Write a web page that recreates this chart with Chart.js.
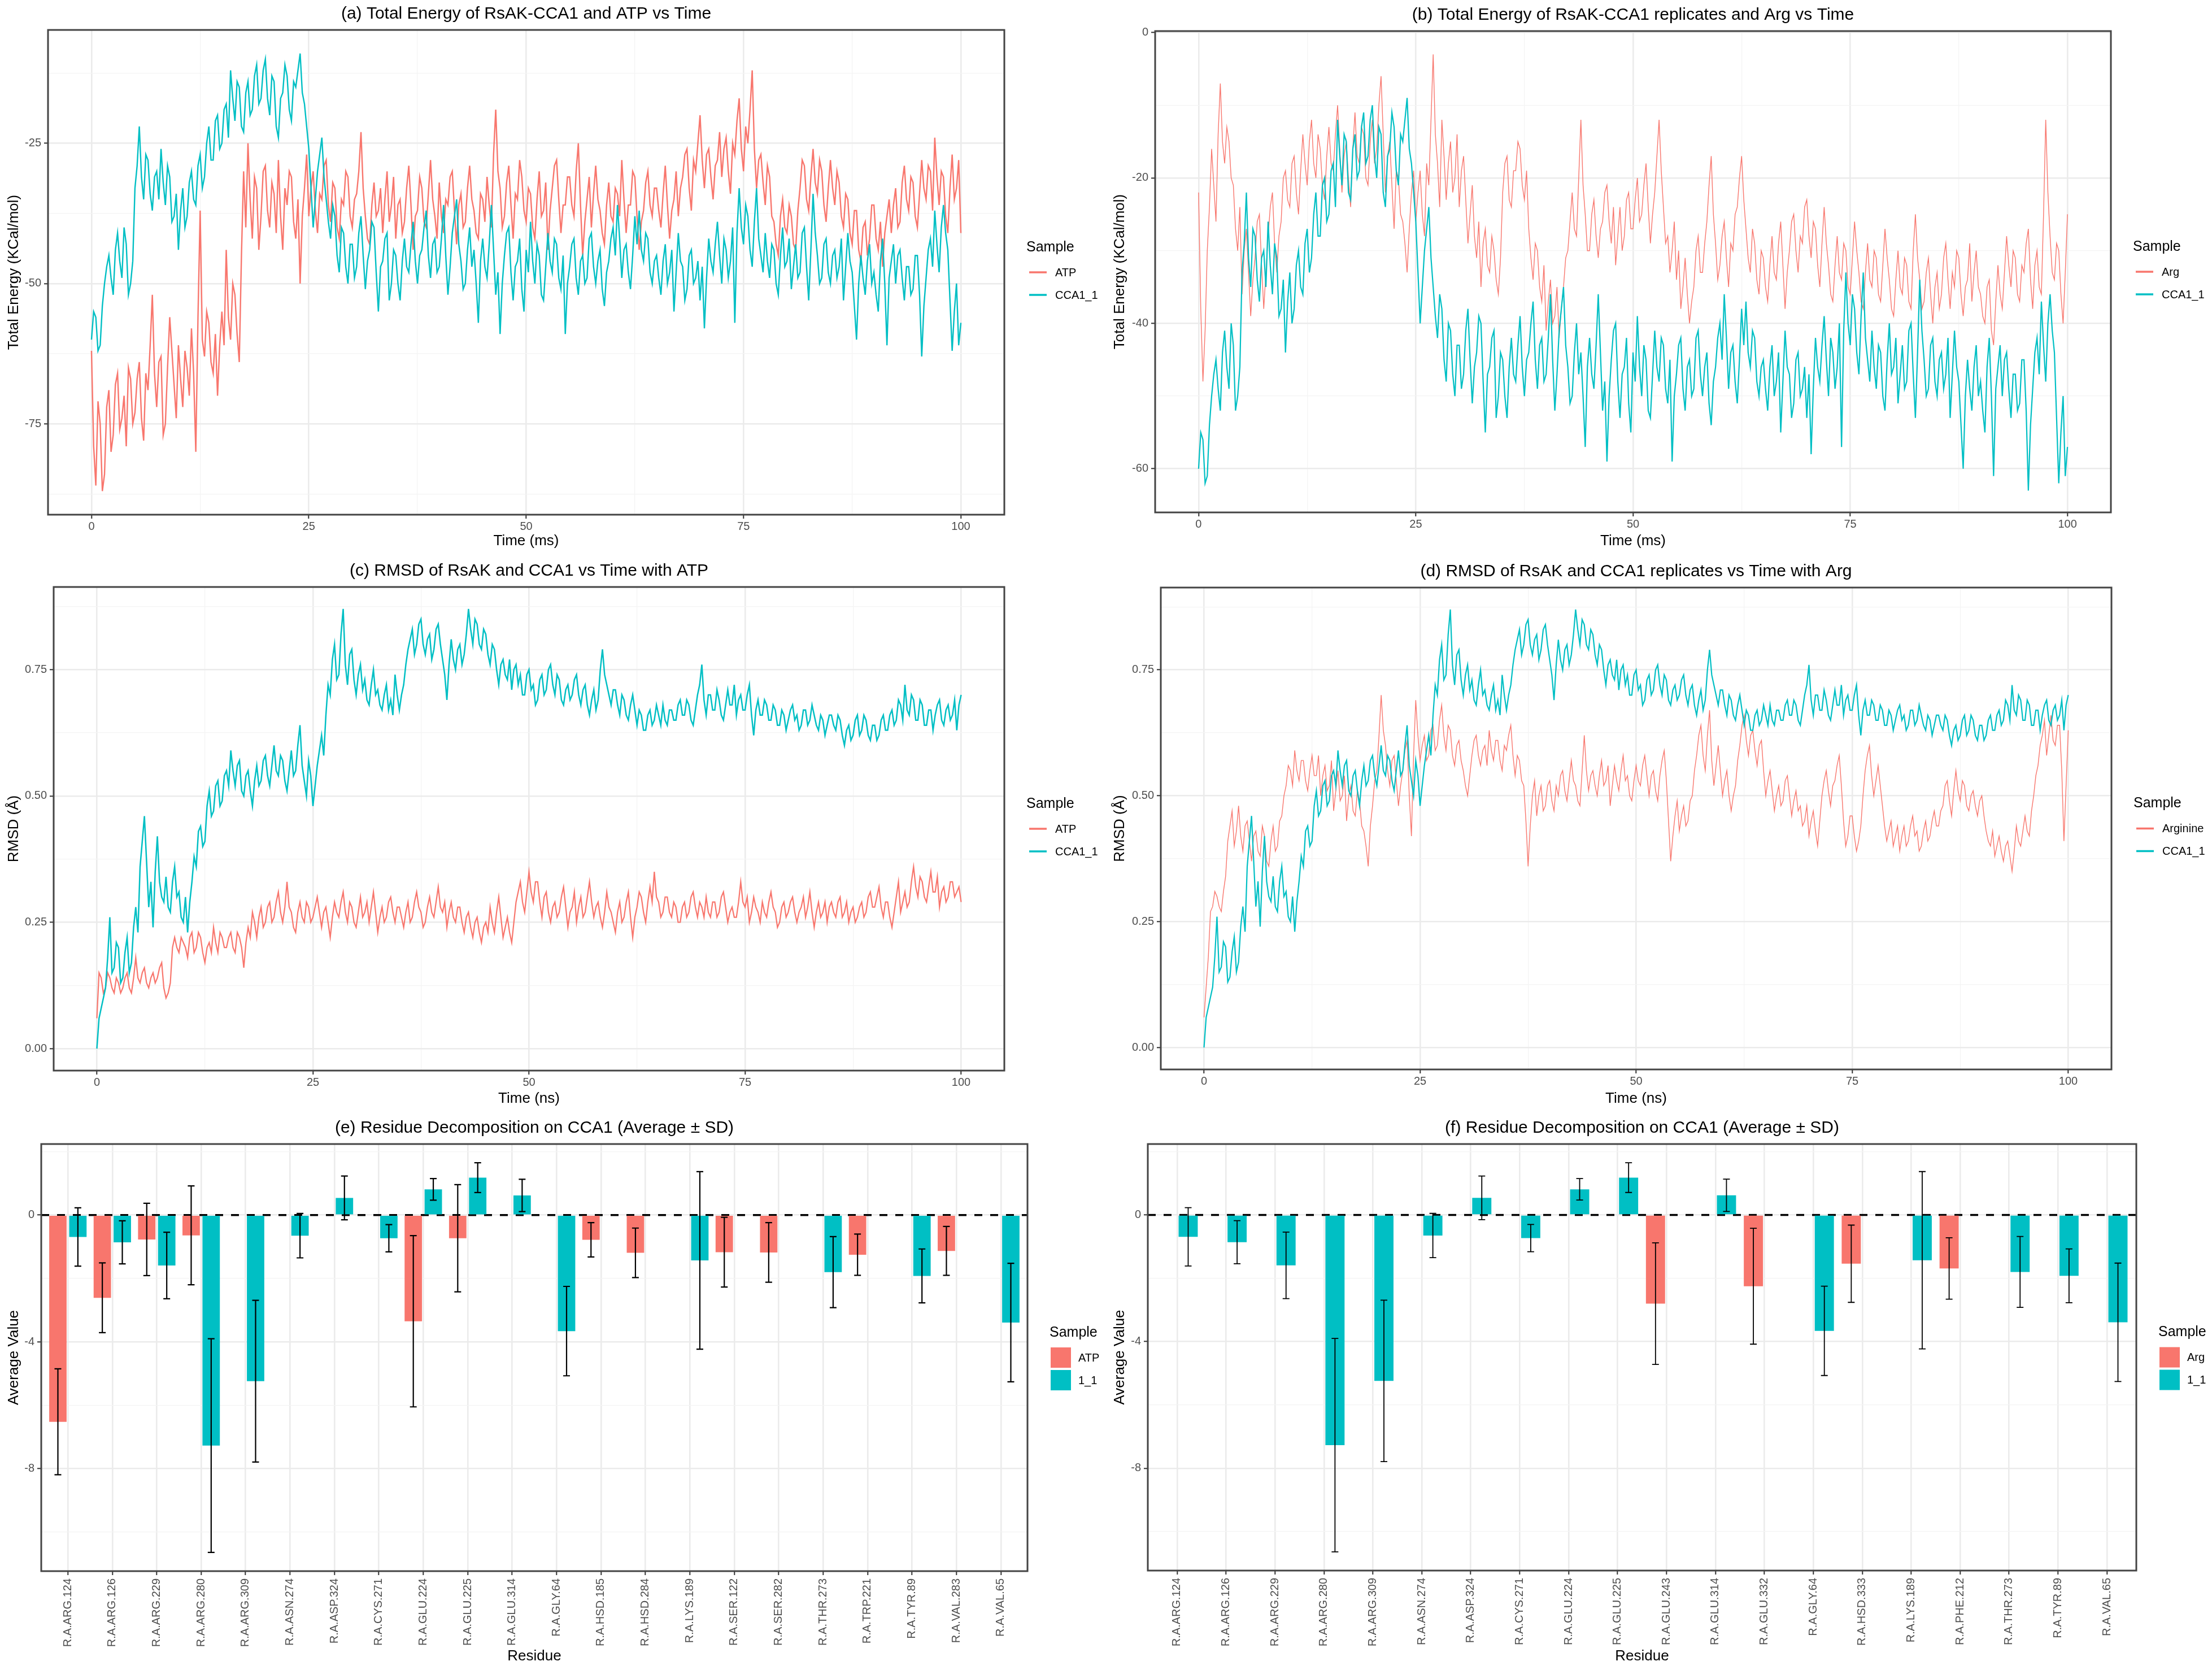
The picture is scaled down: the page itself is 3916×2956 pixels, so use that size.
<!DOCTYPE html>
<html>
<head>
<meta charset="utf-8">
<script src="https://cdn.jsdelivr.net/npm/chart.js@4.4.1/dist/chart.umd.min.js"></script>
<style>
  html, body { margin: 0; padding: 0; background: #fff; }
  body { width: 3916px; height: 2956px; position: relative; overflow: hidden; }
  canvas { position: absolute; }
</style>
</head>
<body>
<canvas id="panelA" width="1958" height="980" style="left:0px;top:0px"></canvas>
<canvas id="panelB" width="1958" height="980" style="left:1958px;top:0px"></canvas>
<canvas id="panelC" width="1958" height="990" style="left:0px;top:980px"></canvas>
<canvas id="panelD" width="1958" height="990" style="left:1958px;top:980px"></canvas>
<canvas id="panelE" width="1958" height="986" style="left:0px;top:1970px"></canvas>
<canvas id="panelF" width="1958" height="986" style="left:1958px;top:1970px"></canvas>
<script>
// Time series, every 0.25 ms / ns (0 .. 100), one row = 5 ms
const energyCCA1 = [
  -60, -55, -56, -62, -61, -54, -50, -47, -45, -49, -52, -44, -41, -46, -49, -40, -43, -52, -50, -46,
  -33, -29, -22, -31, -35, -27, -28, -34, -37, -31, -30, -35, -26, -32, -36, -29, -31, -39, -38, -34,
  -44, -37, -33, -40, -38, -32, -30, -35, -36, -29, -27, -33, -31, -25, -22, -28, -28, -21, -20, -26,
  -25, -19, -18, -24, -12, -17, -21, -14, -15, -22, -23, -16, -14, -20, -19, -13, -11, -18, -17, -12,
  -10, -17, -20, -13, -14, -22, -24, -17, -16, -11, -13, -19, -21, -14, -15, -12, -9, -16, -18, -22,
  -26, -33, -40, -35, -30, -27, -24, -31, -35, -39, -42, -36, -38, -45, -48, -40, -41, -47, -50, -43,
  -43, -49, -47, -41, -38, -45, -51, -46, -44, -39, -40, -48, -55, -47, -46, -42, -41, -53, -50, -44,
  -45, -50, -53, -46, -42, -47, -48, -43, -39, -46, -50, -45, -44, -40, -37, -45, -49, -43, -42, -48,
  -47, -42, -36, -45, -52, -47, -41, -38, -35, -43, -46, -51, -50, -44, -40, -47, -44, -50, -57, -46,
  -42, -47, -49, -43, -36, -44, -52, -48, -59, -50, -45, -41, -40, -48, -53, -47, -46, -42, -51, -55,
  -44, -48, -39, -46, -50, -43, -45, -52, -53, -47, -41, -46, -48, -42, -43, -49, -51, -45, -59, -50,
  -47, -43, -42, -49, -52, -46, -45, -50, -49, -42, -41, -47, -50, -46, -44, -51, -54, -48, -46, -42,
  -40, -45, -36, -42, -49, -44, -43, -48, -51, -45, -38, -43, -37, -44, -46, -41, -42, -48, -50, -46,
  -45, -49, -52, -46, -43, -50, -48, -44, -55, -48, -41, -46, -47, -53, -51, -45, -44, -50, -49, -46,
  -53, -47, -58, -49, -42, -46, -48, -43, -39, -45, -50, -42, -44, -49, -46, -40, -57, -41, -33, -40,
  -43, -36, -38, -44, -47, -39, -33, -42, -45, -48, -41, -46, -49, -43, -44, -50, -52, -45, -40, -47,
  -46, -42, -51, -47, -43, -49, -48, -41, -40, -47, -53, -44, -34, -41, -45, -50, -49, -43, -42, -48,
  -50, -45, -44, -49, -47, -42, -53, -47, -41, -46, -48, -54, -60, -50, -45, -49, -52, -46, -43, -50,
  -48, -52, -55, -46, -42, -50, -61, -49, -46, -43, -50, -45, -44, -49, -53, -47, -47, -52, -51, -45,
  -45, -52, -63, -54, -49, -44, -42, -47, -37, -43, -48, -40, -36, -41, -44, -53, -62, -55, -50, -61,
  -57
];
const energyATP = [
  -62, -79, -86, -71, -75, -87, -84, -72, -69, -80, -77, -68, -66, -76, -74, -70, -79, -65, -67, -75,
  -73, -67, -64, -74, -78, -66, -69, -61, -52, -66, -72, -64, -63, -77, -75, -65, -56, -62, -68, -74,
  -61, -67, -72, -62, -65, -70, -58, -66, -80, -56, -37, -60, -63, -55, -57, -64, -66, -59, -70, -61,
  -55, -61, -44, -56, -60, -50, -52, -59, -64, -45, -30, -40, -25, -35, -42, -31, -33, -44, -38, -30,
  -29, -37, -40, -32, -34, -41, -28, -38, -44, -33, -36, -30, -31, -39, -42, -35, -50, -38, -33, -27,
  -38, -33, -30, -37, -41, -34, -35, -29, -28, -36, -39, -32, -33, -40, -42, -35, -36, -30, -31, -38,
  -40, -35, -34, -30, -23, -33, -38, -42, -43, -36, -32, -38, -37, -33, -41, -35, -30, -39, -36, -31,
  -42, -36, -35, -41, -39, -33, -29, -36, -44, -38, -37, -31, -33, -39, -40, -34, -28, -35, -38, -42,
  -32, -38, -41, -35, -36, -31, -30, -37, -43, -36, -34, -40, -39, -33, -29, -35, -37, -41, -42, -34,
  -35, -39, -31, -36, -40, -27, -19, -30, -33, -40, -38, -32, -29, -36, -42, -34, -35, -28, -31, -37,
  -39, -33, -34, -40, -42, -35, -30, -38, -37, -32, -44, -37, -33, -29, -28, -35, -41, -36, -36, -31,
  -31, -36, -38, -30, -25, -36, -45, -39, -35, -31, -40, -34, -29, -35, -37, -41, -43, -36, -32, -38,
  -39, -33, -34, -38, -28, -35, -41, -36, -36, -30, -31, -38, -44, -39, -37, -32, -30, -36, -38, -33,
  -33, -37, -40, -34, -29, -36, -42, -37, -35, -30, -38, -33, -31, -27, -26, -33, -37, -28, -30, -25,
  -20, -28, -33, -27, -26, -31, -35, -29, -28, -23, -31, -26, -24, -30, -34, -25, -27, -21, -17, -26,
  -30, -22, -25, -19, -12, -26, -33, -28, -27, -32, -36, -29, -31, -38, -39, -43, -45, -38, -35, -40,
  -41, -36, -38, -43, -44, -37, -33, -28, -29, -35, -37, -31, -26, -32, -34, -28, -30, -36, -39, -33,
  -28, -33, -36, -30, -32, -38, -40, -34, -35, -41, -43, -37, -37, -44, -46, -40, -39, -45, -42, -36,
  -36, -42, -44, -39, -47, -41, -38, -35, -41, -36, -33, -40, -39, -32, -29, -35, -37, -31, -32, -38,
  -40, -34, -28, -33, -35, -29, -30, -37, -24, -31, -36, -30, -31, -38, -41, -33, -27, -35, -33, -28,
  -41
];
const energyArg = [
  -22, -38, -48, -41, -30, -24, -16, -21, -26, -14, -7, -15, -18, -13, -15, -20, -21, -27, -30, -24,
  -36, -30, -27, -33, -39, -34, -31, -26, -25, -32, -38, -33, -28, -24, -22, -29, -33, -28, -26, -20,
  -19, -23, -24, -18, -17, -22, -25, -19, -14, -18, -21, -15, -12, -18, -20, -14, -16, -21, -23, -17,
  -13, -18, -19, -14, -10, -16, -22, -17, -15, -20, -24, -16, -11, -17, -18, -13, -14, -20, -21, -15,
  -12, -18, -16, -10, -6, -14, -22, -17, -15, -21, -27, -19, -20, -25, -26, -29, -33, -27, -22, -19,
  -26, -22, -19, -25, -28, -18, -21, -12, -3, -14, -18, -24, -12, -17, -23, -18, -15, -22, -20, -14,
  -24, -19, -17, -23, -29, -25, -21, -28, -31, -26, -35, -29, -27, -32, -33, -28, -30, -34, -36, -31,
  -22, -18, -17, -23, -24, -19, -19, -15, -16, -21, -23, -19, -27, -31, -34, -29, -30, -35, -37, -32,
  -41, -37, -34, -40, -39, -35, -42, -38, -35, -31, -30, -26, -22, -27, -28, -20, -12, -21, -25, -30,
  -30, -25, -23, -28, -31, -27, -26, -22, -21, -26, -29, -24, -32, -28, -24, -30, -28, -23, -22, -27,
  -27, -23, -20, -26, -25, -21, -18, -24, -29, -25, -22, -17, -12, -19, -24, -29, -28, -33, -30, -26,
  -34, -30, -38, -35, -31, -36, -40, -37, -35, -30, -28, -33, -33, -29, -26, -21, -17, -25, -29, -34,
  -32, -28, -26, -31, -35, -29, -30, -25, -24, -20, -17, -23, -27, -31, -33, -27, -29, -34, -36, -30,
  -31, -35, -37, -32, -28, -33, -34, -29, -26, -32, -38, -33, -30, -26, -25, -30, -33, -28, -29, -24,
  -23, -28, -31, -26, -27, -32, -35, -29, -24, -29, -32, -36, -37, -32, -28, -33, -34, -29, -30, -35,
  -36, -31, -26, -30, -33, -37, -38, -33, -29, -34, -35, -30, -31, -36, -37, -32, -27, -31, -34, -38,
  -39, -34, -30, -35, -36, -31, -32, -37, -38, -30, -25, -31, -34, -38, -37, -33, -31, -36, -40, -35,
  -33, -38, -36, -31, -29, -34, -38, -33, -35, -30, -31, -36, -39, -35, -34, -29, -37, -33, -30, -35,
  -36, -39, -40, -35, -34, -41, -43, -37, -32, -36, -38, -33, -28, -32, -35, -30, -31, -36, -37, -32,
  -33, -29, -27, -34, -38, -32, -30, -35, -36, -25, -12, -22, -28, -33, -34, -29, -30, -36, -40, -33,
  -25
];
const rmsdCCA1 = [
  0.00, 0.06, 0.08, 0.10, 0.12, 0.18, 0.26, 0.15, 0.16, 0.21, 0.20, 0.13, 0.14, 0.19, 0.22, 0.15, 0.17, 0.24, 0.28, 0.23,
  0.36, 0.41, 0.46, 0.37, 0.28, 0.33, 0.24, 0.35, 0.42, 0.33, 0.30, 0.29, 0.34, 0.28, 0.27, 0.33, 0.36, 0.30, 0.31, 0.26,
  0.25, 0.30, 0.23, 0.29, 0.33, 0.38, 0.36, 0.43, 0.44, 0.40, 0.41, 0.48, 0.51, 0.46, 0.47, 0.52, 0.53, 0.48, 0.49, 0.54,
  0.55, 0.52, 0.59, 0.55, 0.52, 0.56, 0.57, 0.51, 0.50, 0.54, 0.55, 0.51, 0.48, 0.53, 0.56, 0.52, 0.53, 0.57, 0.58, 0.54,
  0.52, 0.56, 0.60, 0.55, 0.54, 0.58, 0.57, 0.53, 0.51, 0.55, 0.59, 0.54, 0.55, 0.60, 0.64, 0.56, 0.53, 0.50, 0.57, 0.54,
  0.48, 0.52, 0.56, 0.59, 0.62, 0.58, 0.66, 0.72, 0.70, 0.77, 0.80, 0.73, 0.74, 0.82, 0.87, 0.76, 0.72, 0.78, 0.79, 0.73,
  0.70, 0.74, 0.76, 0.71, 0.73, 0.69, 0.68, 0.72, 0.75, 0.70, 0.71, 0.68, 0.67, 0.70, 0.72, 0.67, 0.69, 0.66, 0.74, 0.70,
  0.67, 0.70, 0.72, 0.76, 0.79, 0.81, 0.83, 0.78, 0.80, 0.84, 0.85, 0.80, 0.78, 0.81, 0.82, 0.77, 0.79, 0.83, 0.84, 0.80,
  0.77, 0.74, 0.69, 0.76, 0.81, 0.77, 0.75, 0.79, 0.80, 0.76, 0.78, 0.82, 0.87, 0.83, 0.80, 0.85, 0.84, 0.80, 0.79, 0.83,
  0.82, 0.78, 0.76, 0.80, 0.79, 0.75, 0.72, 0.76, 0.77, 0.74, 0.73, 0.77, 0.71, 0.75, 0.76, 0.72, 0.74, 0.70, 0.70, 0.74,
  0.75, 0.71, 0.72, 0.68, 0.69, 0.73, 0.74, 0.70, 0.71, 0.75, 0.76, 0.72, 0.70, 0.74, 0.73, 0.69, 0.68, 0.71, 0.72, 0.69,
  0.70, 0.73, 0.74, 0.70, 0.68, 0.71, 0.72, 0.68, 0.66, 0.69, 0.71, 0.67, 0.69, 0.75, 0.79, 0.74, 0.72, 0.70, 0.68, 0.71,
  0.71, 0.68, 0.66, 0.70, 0.69, 0.66, 0.65, 0.68, 0.70, 0.67, 0.64, 0.67, 0.66, 0.63, 0.63, 0.66, 0.67, 0.64, 0.65, 0.68,
  0.66, 0.64, 0.68, 0.65, 0.64, 0.67, 0.67, 0.65, 0.65, 0.68, 0.69, 0.66, 0.66, 0.69, 0.68, 0.65, 0.64, 0.67, 0.70, 0.72,
  0.76, 0.69, 0.66, 0.70, 0.70, 0.67, 0.67, 0.71, 0.69, 0.66, 0.65, 0.68, 0.71, 0.68, 0.68, 0.72, 0.66, 0.69, 0.70, 0.67,
  0.67, 0.70, 0.72, 0.66, 0.62, 0.67, 0.69, 0.66, 0.66, 0.69, 0.68, 0.65, 0.65, 0.68, 0.67, 0.64, 0.64, 0.67, 0.66, 0.63,
  0.65, 0.67, 0.68, 0.65, 0.66, 0.63, 0.64, 0.67, 0.67, 0.64, 0.65, 0.68, 0.66, 0.64, 0.63, 0.66, 0.65, 0.62, 0.64, 0.66,
  0.66, 0.64, 0.63, 0.66, 0.65, 0.62, 0.60, 0.63, 0.64, 0.61, 0.62, 0.65, 0.66, 0.62, 0.63, 0.66, 0.65, 0.62, 0.61, 0.64,
  0.64, 0.61, 0.62, 0.65, 0.66, 0.63, 0.63, 0.66, 0.67, 0.64, 0.65, 0.69, 0.68, 0.65, 0.72, 0.67, 0.66, 0.70, 0.69, 0.65,
  0.65, 0.69, 0.68, 0.64, 0.64, 0.67, 0.67, 0.63, 0.66, 0.68, 0.69, 0.65, 0.64, 0.67, 0.68, 0.65, 0.66, 0.69, 0.63, 0.68,
  0.70
];
const rmsdATP = [
  0.06, 0.15, 0.14, 0.11, 0.12, 0.15, 0.14, 0.12, 0.11, 0.14, 0.13, 0.11, 0.12, 0.14, 0.15, 0.12, 0.11, 0.14, 0.18, 0.14,
  0.13, 0.15, 0.16, 0.13, 0.12, 0.14, 0.15, 0.13, 0.14, 0.16, 0.17, 0.12, 0.10, 0.11, 0.13, 0.20, 0.22, 0.20, 0.19, 0.22,
  0.21, 0.20, 0.18, 0.22, 0.23, 0.19, 0.20, 0.23, 0.22, 0.19, 0.17, 0.20, 0.21, 0.19, 0.24, 0.21, 0.19, 0.23, 0.22, 0.20,
  0.20, 0.22, 0.23, 0.20, 0.19, 0.23, 0.22, 0.20, 0.16, 0.21, 0.24, 0.22, 0.27, 0.25, 0.22, 0.26, 0.28, 0.24, 0.25, 0.28,
  0.29, 0.25, 0.26, 0.29, 0.31, 0.27, 0.25, 0.28, 0.33, 0.28, 0.27, 0.24, 0.23, 0.27, 0.29, 0.26, 0.25, 0.29, 0.28, 0.25,
  0.26, 0.28, 0.30, 0.27, 0.24, 0.27, 0.28, 0.25, 0.22, 0.26, 0.29, 0.27, 0.26, 0.29, 0.31, 0.27, 0.25, 0.29, 0.28, 0.25,
  0.24, 0.27, 0.30, 0.26, 0.27, 0.29, 0.25, 0.28, 0.31, 0.27, 0.23, 0.26, 0.28, 0.25, 0.26, 0.29, 0.30, 0.27, 0.25, 0.28,
  0.28, 0.26, 0.24, 0.27, 0.29, 0.25, 0.26, 0.29, 0.31, 0.28, 0.27, 0.24, 0.25, 0.28, 0.30, 0.27, 0.26, 0.29, 0.32, 0.28,
  0.27, 0.29, 0.24, 0.27, 0.29, 0.26, 0.25, 0.28, 0.28, 0.25, 0.23, 0.26, 0.27, 0.24, 0.22, 0.25, 0.26, 0.23, 0.21, 0.24,
  0.25, 0.23, 0.28, 0.25, 0.23, 0.27, 0.30, 0.26, 0.22, 0.24, 0.26, 0.23, 0.21, 0.25, 0.29, 0.31, 0.33, 0.29, 0.27, 0.31,
  0.35, 0.31, 0.29, 0.33, 0.33, 0.29, 0.26, 0.30, 0.31, 0.27, 0.25, 0.28, 0.29, 0.26, 0.27, 0.30, 0.32, 0.28, 0.24, 0.27,
  0.28, 0.31, 0.25, 0.28, 0.30, 0.26, 0.27, 0.30, 0.33, 0.29, 0.26, 0.28, 0.29, 0.26, 0.24, 0.27, 0.31, 0.28, 0.27, 0.25,
  0.23, 0.27, 0.29, 0.25, 0.26, 0.29, 0.31, 0.26, 0.22, 0.26, 0.28, 0.31, 0.30, 0.27, 0.25, 0.29, 0.32, 0.29, 0.35, 0.30,
  0.29, 0.26, 0.27, 0.30, 0.30, 0.27, 0.26, 0.29, 0.28, 0.25, 0.25, 0.28, 0.29, 0.26, 0.27, 0.30, 0.31, 0.28, 0.26, 0.29,
  0.28, 0.26, 0.30, 0.27, 0.26, 0.29, 0.29, 0.26, 0.27, 0.30, 0.31, 0.28, 0.25, 0.27, 0.28, 0.26, 0.26, 0.29, 0.33, 0.29,
  0.28, 0.30, 0.25, 0.27, 0.30, 0.28, 0.27, 0.25, 0.29, 0.27, 0.26, 0.29, 0.31, 0.28, 0.27, 0.24, 0.25, 0.28, 0.29, 0.26,
  0.27, 0.29, 0.30, 0.27, 0.25, 0.27, 0.28, 0.30, 0.26, 0.28, 0.31, 0.27, 0.24, 0.27, 0.29, 0.26, 0.27, 0.29, 0.25, 0.28,
  0.29, 0.27, 0.26, 0.29, 0.30, 0.26, 0.27, 0.29, 0.25, 0.27, 0.28, 0.25, 0.26, 0.28, 0.29, 0.26, 0.27, 0.30, 0.31, 0.28,
  0.28, 0.30, 0.32, 0.28, 0.26, 0.29, 0.29, 0.26, 0.24, 0.27, 0.30, 0.33, 0.27, 0.29, 0.31, 0.28, 0.29, 0.33, 0.36, 0.32,
  0.30, 0.34, 0.33, 0.30, 0.29, 0.32, 0.35, 0.31, 0.31, 0.34, 0.28, 0.31, 0.32, 0.29, 0.30, 0.33, 0.33, 0.30, 0.31, 0.32,
  0.29
];
const rmsdArg = [
  0.06, 0.12, 0.18, 0.27, 0.28, 0.31, 0.30, 0.28, 0.27, 0.31, 0.34, 0.41, 0.44, 0.47, 0.40, 0.43, 0.48, 0.42, 0.39, 0.44,
  0.45, 0.41, 0.37, 0.42, 0.43, 0.39, 0.38, 0.44, 0.42, 0.37, 0.36, 0.41, 0.44, 0.39, 0.40, 0.45, 0.46, 0.50, 0.52, 0.56,
  0.55, 0.52, 0.59, 0.55, 0.53, 0.57, 0.57, 0.53, 0.51, 0.55, 0.58, 0.54, 0.54, 0.58, 0.50, 0.54, 0.56, 0.51, 0.52, 0.57,
  0.47, 0.51, 0.55, 0.49, 0.50, 0.54, 0.45, 0.50, 0.52, 0.47, 0.46, 0.51, 0.49, 0.44, 0.43, 0.40, 0.36, 0.44, 0.48, 0.53,
  0.55, 0.62, 0.70, 0.63, 0.60, 0.55, 0.52, 0.57, 0.58, 0.53, 0.48, 0.52, 0.55, 0.59, 0.61, 0.50, 0.42, 0.58, 0.69, 0.62,
  0.57, 0.60, 0.62, 0.57, 0.58, 0.63, 0.64, 0.59, 0.60, 0.65, 0.68, 0.62, 0.59, 0.64, 0.63, 0.58, 0.56, 0.60, 0.61, 0.57,
  0.55, 0.52, 0.50, 0.54, 0.58, 0.61, 0.62, 0.58, 0.56, 0.59, 0.60, 0.56, 0.63, 0.59, 0.57, 0.61, 0.61, 0.57, 0.55, 0.60,
  0.59, 0.62, 0.64, 0.58, 0.54, 0.58, 0.57, 0.53, 0.52, 0.45, 0.36, 0.44, 0.50, 0.53, 0.46, 0.50, 0.52, 0.47, 0.48, 0.52,
  0.53, 0.49, 0.47, 0.52, 0.50, 0.54, 0.55, 0.51, 0.49, 0.53, 0.57, 0.53, 0.52, 0.49, 0.48, 0.55, 0.62, 0.55, 0.51, 0.54,
  0.55, 0.52, 0.50, 0.54, 0.57, 0.52, 0.53, 0.56, 0.48, 0.52, 0.56, 0.53, 0.51, 0.55, 0.58, 0.53, 0.54, 0.50, 0.49, 0.53,
  0.56, 0.53, 0.52, 0.56, 0.58, 0.54, 0.50, 0.54, 0.55, 0.51, 0.49, 0.54, 0.57, 0.59, 0.53, 0.45, 0.37, 0.42, 0.46, 0.49,
  0.43, 0.46, 0.48, 0.44, 0.45, 0.49, 0.50, 0.55, 0.58, 0.62, 0.64, 0.58, 0.55, 0.62, 0.67, 0.57, 0.52, 0.56, 0.60, 0.55,
  0.50, 0.53, 0.55, 0.50, 0.47, 0.50, 0.52, 0.57, 0.60, 0.64, 0.66, 0.61, 0.58, 0.62, 0.63, 0.59, 0.56, 0.60, 0.61, 0.55,
  0.50, 0.53, 0.55, 0.51, 0.47, 0.50, 0.52, 0.48, 0.49, 0.53, 0.54, 0.50, 0.46, 0.49, 0.51, 0.47, 0.48, 0.44, 0.45, 0.48,
  0.42, 0.45, 0.47, 0.43, 0.40, 0.45, 0.50, 0.53, 0.55, 0.51, 0.48, 0.52, 0.53, 0.56, 0.58, 0.52, 0.45, 0.40, 0.42, 0.46,
  0.46, 0.42, 0.39, 0.41, 0.44, 0.50, 0.55, 0.58, 0.60, 0.54, 0.50, 0.53, 0.56, 0.52, 0.48, 0.44, 0.41, 0.43, 0.45, 0.40,
  0.42, 0.44, 0.39, 0.42, 0.44, 0.40, 0.41, 0.44, 0.46, 0.42, 0.43, 0.39, 0.40, 0.43, 0.45, 0.41, 0.42, 0.45, 0.47, 0.44,
  0.44, 0.47, 0.48, 0.52, 0.53, 0.49, 0.46, 0.51, 0.55, 0.51, 0.49, 0.53, 0.52, 0.48, 0.47, 0.50, 0.51, 0.48, 0.46, 0.49,
  0.50, 0.46, 0.43, 0.41, 0.40, 0.43, 0.38, 0.40, 0.42, 0.39, 0.37, 0.40, 0.41, 0.38, 0.35, 0.39, 0.44, 0.41, 0.40, 0.43,
  0.46, 0.43, 0.42, 0.47, 0.50, 0.54, 0.56, 0.60, 0.62, 0.65, 0.58, 0.62, 0.66, 0.61, 0.60, 0.64, 0.64, 0.55, 0.41, 0.52,
  0.63
];
const timeSpan = 100;

// Residue decomposition (panel e: ATP vs 1_1)
const residuesE = ['R.A.ARG.124', 'R.A.ARG.126', 'R.A.ARG.229', 'R.A.ARG.280', 'R.A.ARG.309',
  'R.A.ASN.274', 'R.A.ASP.324', 'R.A.CYS.271', 'R.A.GLU.224', 'R.A.GLU.225', 'R.A.GLU.314',
  'R.A.GLY.64', 'R.A.HSD.185', 'R.A.HSD.284', 'R.A.LYS.189', 'R.A.SER.122', 'R.A.SER.282',
  'R.A.THR.273', 'R.A.TRP.221', 'R.A.TYR.89', 'R.A.VAL.283', 'R.A.VAL.65'];
const atpMean = [-6.52, -2.61, -0.77, -0.64, null, null, null, null, -3.35, -0.73, null,
  null, -0.78, -1.19, null, -1.17, -1.18, null, -1.25, null, -1.13, null];
const atpSD = [1.67, 1.10, 1.14, 1.56, null, null, null, null, 2.70, 1.69, null,
  null, 0.54, 0.78, null, 1.10, 0.94, null, 0.65, null, 0.77, null];
const cca1MeanE = [-0.69, -0.86, -1.59, -7.27, -5.24, -0.65, 0.54, -0.73, 0.81, 1.18, 0.62,
  -3.66, null, null, -1.43, null, null, -1.80, null, -1.92, null, -3.39];
const cca1SDE = [0.92, 0.68, 1.05, 3.37, 2.55, 0.70, 0.69, 0.43, 0.34, 0.47, 0.51,
  1.41, null, null, 2.80, null, null, 1.12, null, 0.85, null, 1.87];

// Residue decomposition (panel f: Arg vs 1_1)
const residuesF = ['R.A.ARG.124', 'R.A.ARG.126', 'R.A.ARG.229', 'R.A.ARG.280', 'R.A.ARG.309',
  'R.A.ASN.274', 'R.A.ASP.324', 'R.A.CYS.271', 'R.A.GLU.224', 'R.A.GLU.225', 'R.A.GLU.243',
  'R.A.GLU.314', 'R.A.GLU.332', 'R.A.GLY.64', 'R.A.HSD.333', 'R.A.LYS.189', 'R.A.PHE.212',
  'R.A.THR.273', 'R.A.TYR.89', 'R.A.VAL.65'];
const argMean = [null, null, null, null, null, null, null, null, null, null, -2.80,
  null, -2.25, null, -1.54, null, -1.69, null, null, null];
const argSD = [null, null, null, null, null, null, null, null, null, null, 1.92,
  null, 1.83, null, 1.22, null, 0.97, null, null, null];
const cca1MeanF = [-0.69, -0.86, -1.59, -7.27, -5.24, -0.65, 0.54, -0.73, 0.81, 1.18, null,
  0.62, null, -3.66, null, -1.43, null, -1.80, -1.92, -3.39];
const cca1SDF = [0.92, 0.68, 1.05, 3.37, 2.55, 0.70, 0.69, 0.43, 0.34, 0.47, null,
  0.51, null, 1.41, null, 2.80, null, 1.12, 0.85, 1.87];

// Tick values
const timeMajor = [0, 25, 50, 75, 100];
const timeMinor = [12.5, 37.5, 62.5, 87.5];
const energyMajorA = [-25, -50, -75];
const energyMinorA = [-12.5, -37.5, -62.5, -87.5];
const energyMajorB = [0, -20, -40, -60];
const energyMinorB = [-10, -30, -50];
const rmsdMajor = [0, 0.25, 0.5, 0.75];
const rmsdMinor = [0.125, 0.375, 0.625, 0.875];
const decompMajor = [0, -4, -8];
const decompMinor = [2, -2, -6, -10];

const RED = '#F8766D';
const TEAL = '#00BFC4';
const FONT = "'Liberation Sans', Arial, Helvetica, sans-serif";

Chart.defaults.font.family = FONT;
Chart.defaults.animation = false;

function gridOpts(majors) {
  const isMajor = c => c.tick && majors.includes(c.tick.value);
  return {
    offset: false,
    color: c => isMajor(c) ? '#EBEBEB' : '#F4F4F4',
    lineWidth: c => isMajor(c) ? 2.6 : 1.3,
    tickColor: c => isMajor(c) ? '#333333' : 'rgba(0,0,0,0)',
    tickWidth: 2,
    tickLength: 7,
    drawTicks: true
  };
}

function makeAxis(dir, g, o) {
  const all = o.major.concat(o.minor || []).sort((p, q) => p - q);
  const ax = {
    type: 'linear',
    min: o.min,
    max: o.max,
    offset: false,
    border: { display: false },
    grid: gridOpts(o.major),
    afterBuildTicks: s => { s.ticks = all.map(v => ({ value: v })); },
    ticks: {
      autoSkip: false,
      font: { family: FONT, size: 20 },
      color: '#4D4D4D',
      callback: v => o.major.includes(v) ? o.fmt(v) : ''
    },
    title: {
      display: true,
      text: o.title,
      color: '#000',
      font: { family: FONT, size: 26, lineHeight: 1 }
    }
  };
  if (dir === 'x') {
    ax.position = 'bottom';
    ax.ticks.padding = o.rotate ? 6 : 2;
    ax.ticks.maxRotation = o.rotate || 0;
    ax.ticks.minRotation = o.rotate || 0;
    ax.title.padding = { top: 0, bottom: g.xPad };
    ax.afterFit = s => { s.height = g.h - g.bottom; };
  } else {
    ax.position = 'left';
    ax.ticks.padding = 5;
    ax.title.padding = { top: 12, bottom: 0 };
    ax.afterFit = s => { s.width = g.left; };
  }
  return ax;
}

// Panel border, title, ggplot-style legend, dashed zero line and error bars
function panelDeco(cfg) {
  return {
    id: 'panelDeco',
    beforeDatasetsDraw(chart) {
      if (!cfg.zeroLine) return;
      const { ctx, chartArea: a, scales } = chart;
      const y = scales.y.getPixelForValue(0);
      ctx.save();
      ctx.strokeStyle = '#000';
      ctx.lineWidth = 3.5;
      ctx.setLineDash([14, 14]);
      ctx.beginPath();
      ctx.moveTo(a.left, y);
      ctx.lineTo(a.right, y);
      ctx.stroke();
      ctx.restore();
    },
    afterDatasetsDraw(chart) {
      if (!cfg.errors) return;
      const { ctx, scales } = chart;
      ctx.save();
      ctx.strokeStyle = '#000';
      ctx.lineWidth = cfg.errWidth || 2;
      cfg.errors.forEach((sd, di) => {
        const meta = chart.getDatasetMeta(di);
        const pts = chart.data.datasets[di].data;
        meta.data.forEach((bar, j) => {
          const m = pts[j].y;
          if (m === null || sd[j] === null) return;
          const x = bar.x;
          const yHi = scales.y.getPixelForValue(m + sd[j]);
          const yLo = scales.y.getPixelForValue(m - sd[j]);
          ctx.beginPath();
          ctx.moveTo(x, yHi); ctx.lineTo(x, yLo);
          ctx.moveTo(x - 6, yHi); ctx.lineTo(x + 6, yHi);
          ctx.moveTo(x - 6, yLo); ctx.lineTo(x + 6, yLo);
          ctx.stroke();
        });
      });
      ctx.restore();
    },
    afterDraw(chart) {
      const { ctx, chartArea: a } = chart;
      ctx.save();
      ctx.strokeStyle = '#444';
      ctx.lineWidth = 3;
      ctx.strokeRect(a.left, a.top, a.right - a.left, a.bottom - a.top);

      ctx.fillStyle = '#000';
      ctx.font = '30px ' + FONT;
      ctx.textAlign = 'center';
      ctx.textBaseline = 'middle';
      ctx.fillText(cfg.title, (a.left + a.right) / 2, a.top - 28);

      const mid = (a.top + a.bottom) / 2;
      ctx.textAlign = 'left';
      ctx.font = '25px ' + FONT;
      ctx.fillText('Sample', a.right + 39, mid - 44);
      ctx.font = '20px ' + FONT;
      chart.data.datasets.forEach((ds, i) => {
        const yy = mid + i * 40;
        if (cfg.keys === 'bar') {
          ctx.fillStyle = ds.backgroundColor;
          ctx.fillRect(a.right + 41, yy - 18, 36, 36);
        } else {
          ctx.strokeStyle = ds.borderColor;
          ctx.lineWidth = 3.5;
          ctx.beginPath();
          ctx.moveTo(a.right + 44, yy);
          ctx.lineTo(a.right + 75, yy);
          ctx.stroke();
        }
        ctx.fillStyle = '#000';
        ctx.fillText(ds.label, a.right + 90, yy + 1);
      });
      ctx.restore();
    }
  };
}

function series(values) {
  const step = timeSpan / (values.length - 1);
  return values.map((v, i) => ({ x: i * step, y: v }));
}

function lineChart(id, g, cfg) {
  new Chart(document.getElementById(id), {
    type: 'line',
    data: {
      datasets: [
        { label: cfg.names[0], data: series(cfg.red), borderColor: RED, borderWidth: cfg.redWidth,
          pointRadius: 0, tension: 0, order: 2 },
        { label: cfg.names[1], data: series(cfg.teal), borderColor: TEAL, borderWidth: cfg.tealWidth,
          pointRadius: 0, tension: 0, order: 1 }
      ]
    },
    options: {
      responsive: false,
      devicePixelRatio: 1,
      layout: { padding: { left: 0, top: g.top, right: g.w - g.right, bottom: 0 } },
      plugins: { legend: { display: false }, tooltip: { enabled: false }, title: { display: false } },
      scales: {
        x: makeAxis('x', g, { min: -5, max: 105, major: timeMajor, minor: timeMinor,
          fmt: v => String(v), title: cfg.xTitle }),
        y: makeAxis('y', g, { min: cfg.yMin, max: cfg.yMax, major: cfg.yMajor, minor: cfg.yMinor,
          fmt: cfg.yFmt, title: cfg.yTitle })
      }
    },
    plugins: [panelDeco({ title: cfg.title, keys: 'line' })]
  });
}

function barChart(id, g, cfg) {
  const idx = cfg.residues.map((_, i) => i);
  const pts = arr => arr.map((v, i) => ({ x: i, y: v }));
  new Chart(document.getElementById(id), {
    type: 'bar',
    data: {
      datasets: [
        { label: cfg.names[0], data: pts(cfg.redMean), backgroundColor: RED,
          categoryPercentage: 0.9, barPercentage: 0.87 },
        { label: cfg.names[1], data: pts(cfg.tealMean), backgroundColor: TEAL,
          categoryPercentage: 0.9, barPercentage: 0.87 }
      ]
    },
    options: {
      responsive: false,
      devicePixelRatio: 1,
      layout: { padding: { left: 0, top: g.top, right: g.w - g.right, bottom: 0 } },
      plugins: { legend: { display: false }, tooltip: { enabled: false }, title: { display: false } },
      scales: {
        x: makeAxis('x', g, { min: -0.6, max: cfg.residues.length - 0.4, major: idx, minor: [],
          fmt: v => cfg.residues[v], title: 'Residue', rotate: 90 }),
        y: makeAxis('y', g, { min: -11.23, max: 2.24, major: decompMajor, minor: decompMinor,
          fmt: v => String(v), title: 'Average Value' })
      }
    },
    plugins: [panelDeco({ title: cfg.title, keys: 'bar', zeroLine: true,
      errors: [cfg.redSD, cfg.tealSD], errWidth: cfg.errWidth })]
  });
}

lineChart('panelA', { w: 1958, h: 980, left: 85, top: 53, right: 1778, bottom: 911, xPad: 9 }, {
  title: '(a) Total Energy of RsAK-CCA1 and ATP vs Time',
  names: ['ATP', 'CCA1_1'], red: energyATP, teal: energyCCA1, redWidth: 2.4, tealWidth: 2.4,
  xTitle: 'Time (ms)', yTitle: 'Total Energy (KCal/mol)',
  yMin: -91.2, yMax: -4.8, yMajor: energyMajorA, yMinor: energyMinorA, yFmt: v => String(v)
});

lineChart('panelB', { w: 1958, h: 980, left: 87, top: 55, right: 1779, bottom: 907, xPad: 9 }, {
  title: '(b) Total Energy of RsAK-CCA1 replicates and Arg vs Time',
  names: ['Arg', 'CCA1_1'], red: energyArg, teal: energyCCA1, redWidth: 1.4, tealWidth: 2.2,
  xTitle: 'Time (ms)', yTitle: 'Total Energy (KCal/mol)',
  yMin: -66, yMax: 0.2, yMajor: energyMajorB, yMinor: energyMinorB, yFmt: v => String(v)
});

lineChart('panelC', { w: 1958, h: 990, left: 95, top: 59, right: 1778, bottom: 915, xPad: 12 }, {
  title: '(c) RMSD of RsAK and CCA1 vs Time with ATP',
  names: ['ATP', 'CCA1_1'], red: rmsdATP, teal: rmsdCCA1, redWidth: 2.2, tealWidth: 2.5,
  xTitle: 'Time (ns)', yTitle: 'RMSD (Å)',
  yMin: -0.0435, yMax: 0.9135, yMajor: rmsdMajor, yMinor: rmsdMinor, yFmt: v => v.toFixed(2)
});

lineChart('panelD', { w: 1958, h: 990, left: 97, top: 60, right: 1780, bottom: 913, xPad: 12 }, {
  title: '(d) RMSD of RsAK and CCA1 replicates vs Time with Arg',
  names: ['Arginine', 'CCA1_1'], red: rmsdArg, teal: rmsdCCA1, redWidth: 1.4, tealWidth: 2.2,
  xTitle: 'Time (ns)', yTitle: 'RMSD (Å)',
  yMin: -0.0435, yMax: 0.9135, yMajor: rmsdMajor, yMinor: rmsdMinor, yFmt: v => v.toFixed(2)
});

barChart('panelE', { w: 1958, h: 986, left: 73, top: 55, right: 1819, bottom: 811, xPad: 11 }, {
  title: '(e) Residue Decomposition on CCA1 (Average ± SD)',
  names: ['ATP', '1_1'], residues: residuesE,
  redMean: atpMean, redSD: atpSD, tealMean: cca1MeanE, tealSD: cca1SDE, errWidth: 2.2
});

barChart('panelF', { w: 1958, h: 986, left: 74, top: 55, right: 1824, bottom: 810, xPad: 11 }, {
  title: '(f) Residue Decomposition on CCA1 (Average ± SD)',
  names: ['Arg', '1_1'], residues: residuesF,
  redMean: argMean, redSD: argSD, tealMean: cca1MeanF, tealSD: cca1SDF, errWidth: 1.8
});
</script>
</body>
</html>
